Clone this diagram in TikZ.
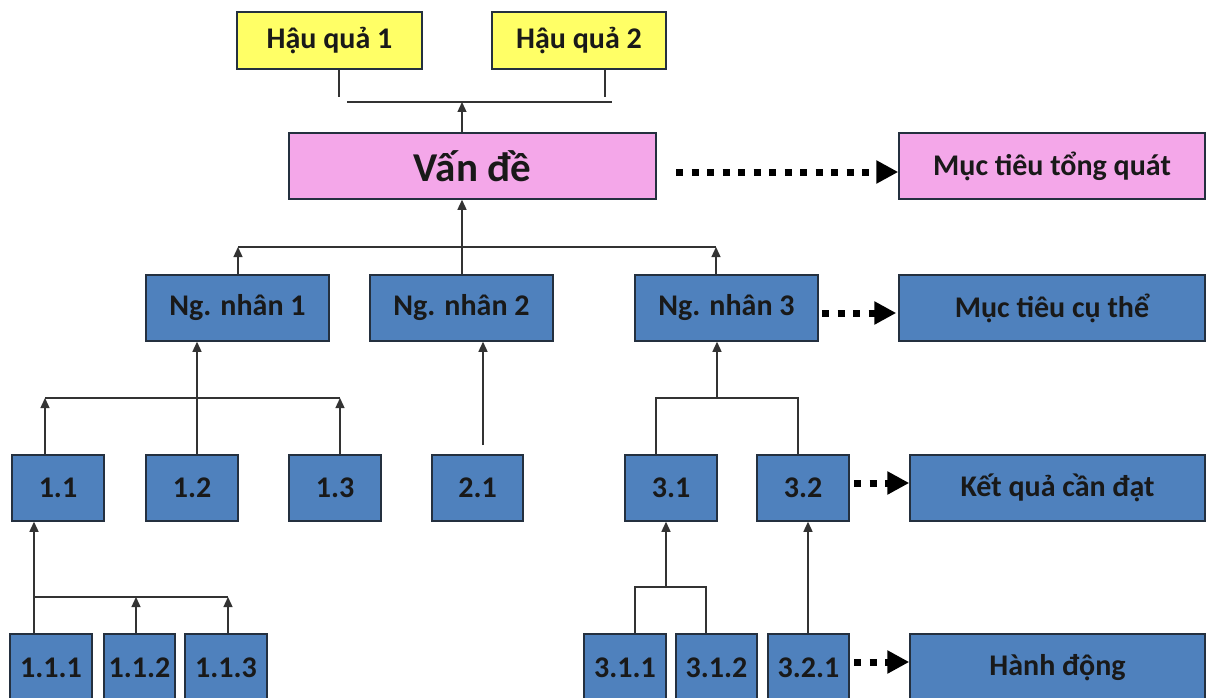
\documentclass[tikz,border=0pt]{standalone}
\usepackage{fontspec}
\setmainfont{Carlito}
\usetikzlibrary{arrows.meta}
\definecolor{bxblue}{HTML}{4F81BD}
\definecolor{bxpink}{HTML}{F4A7E9}
\definecolor{bxyellow}{HTML}{FFFF66}
\definecolor{bxborder}{HTML}{24303F}
\definecolor{lncol}{HTML}{333333}
\begin{document}
\begin{tikzpicture}[x=1pt,y=-1pt,
  box/.style={draw=bxborder,line width=1.5pt,rectangle,inner sep=0pt,
    font=\fontsize{30}{34}\selectfont\bfseries,text=black!90},
  blue/.style={box,fill=bxblue},
  ln/.style={draw=lncol,line width=1.3pt},
  arr/.style={ln,-{Triangle[length=10pt,width=9pt]}},
  dotarr/.style={draw=black,line width=7pt,dash pattern=on 7pt off 8.5pt,
    -{Triangle[length=22pt,width=22pt]}}]
\useasboundingbox (0,0) rectangle (1218,698);
\fill[white] (0,0) rectangle (1218,698);
% level 0
\node[box,fill=bxyellow,minimum width=185pt,minimum height=57pt] (hq1) at (329.5,40.5) {Hậu quả 1};
\node[box,fill=bxyellow,minimum width=174pt,minimum height=57pt] (hq2) at (579,40.5) {Hậu quả 2};
% level 1
\node[box,fill=bxpink,minimum width=367pt,minimum height=66pt,font=\fontsize{41}{46}\selectfont\bfseries] (vd) at (472.5,166) {Vấn đề};
\node[box,fill=bxpink,minimum width=306pt,minimum height=66pt] (mt) at (1052,166) {Mục tiêu tổng quát};
% level 2
\node[blue,minimum width=183pt,minimum height=66pt] (nn1) at (237.5,308) {Ng. nhân 1};
\node[blue,minimum width=183pt,minimum height=66pt] (nn2) at (461.5,308) {Ng. nhân 2};
\node[blue,minimum width=183pt,minimum height=66pt] (nn3) at (726.5,308) {Ng. nhân 3};
\node[blue,minimum width=306pt,minimum height=66pt] (mtc) at (1052,308) {Mục tiêu cụ thể};
% level 3
\node[blue,minimum width=92pt,minimum height=66pt] (b11) at (58,488) {1.1};
\node[blue,minimum width=92pt,minimum height=66pt] (b12) at (192,488) {1.2};
\node[blue,minimum width=92pt,minimum height=66pt] (b13) at (335,488) {1.3};
\node[blue,minimum width=91pt,minimum height=66pt] (b21) at (477.5,488) {2.1};
\node[blue,minimum width=92pt,minimum height=66pt] (b31) at (671,488) {3.1};
\node[blue,minimum width=92pt,minimum height=66pt] (b32) at (803,488) {3.2};
\node[blue,minimum width=295pt,minimum height=66pt] (kq) at (1057.5,488) {Kết quả cần đạt};
% level 4
\node[blue,minimum width=82pt,minimum height=67pt] (b111) at (51,667.5) {1.1.1};
\node[blue,minimum width=71pt,minimum height=67pt] (b112) at (139.5,667.5) {1.1.2};
\node[blue,minimum width=82pt,minimum height=67pt] (b113) at (226,667.5) {1.1.3};
\node[blue,minimum width=82pt,minimum height=67pt] (b311) at (625,667.5) {3.1.1};
\node[blue,minimum width=81pt,minimum height=67pt] (b312) at (716.5,667.5) {3.1.2};
\node[blue,minimum width=81pt,minimum height=67pt] (b321) at (808.5,667.5) {3.2.1};
\node[blue,minimum width=295pt,minimum height=67pt] (hd) at (1057.5,667.5) {Hành động};
% top connectors
\coordinate (h1e) at (339,97);
\coordinate (h2e) at (605,97);
\draw[ln] (h1e |- hq1.south) -- (h1e);
\draw[ln] (h2e |- hq2.south) -- (h2e);
\coordinate (tl) at (347,102);
\coordinate (tr) at (612,102);
\coordinate (tm) at (462,102);
\draw[ln] (tl) -- (tr);
\draw[arr] (tm |- vd.north) -- (tm);
% level 2 connectors
\coordinate (m1) at (238,247);
\coordinate (m3) at (716,247);
\coordinate (c2) at (462,247);
\draw[ln] (m1) -- (m3);
\draw[arr] (m1 |- nn1.north) -- (m1);
\draw[arr] (m3 |- nn3.north) -- (m3);
\draw[arr] (c2 |- nn2.north) -- (c2 |- vd.south);
% level 3 connectors, branch 1
\coordinate (a1) at (45,398);
\coordinate (a2) at (197,398);
\coordinate (a3) at (340,398);
\draw[ln] (a1) -- (a3);
\draw[arr] (a1 |- b11.north) -- (a1);
\draw[arr] (a3 |- b13.north) -- (a3);
\draw[arr] (a2 |- b12.north) -- (a2 |- nn1.south);
% branch 2
\coordinate (d1) at (483,445);
\draw[arr] (d1) -- (d1 |- nn2.south);
% branch 3
\coordinate (e1) at (656,398);
\coordinate (e2) at (798,398);
\coordinate (em) at (717,398);
\draw[ln] (e1 |- b31.north) -- (e1) -- (e2) -- (e2 |- b32.north);
\draw[arr] (em) -- (em |- nn3.south);
% level 4 connectors
\coordinate (f1) at (34,597);
\coordinate (f2) at (136,597);
\coordinate (f3) at (228,597);
\draw[ln] (f1) -- (f3);
\draw[arr] (f1 |- b111.north) -- (f1 |- b11.south);
\draw[arr] (f2 |- b112.north) -- (f2);
\draw[arr] (f3 |- b113.north) -- (f3);
\coordinate (g1) at (635,587);
\coordinate (g2) at (706,587);
\coordinate (gm) at (666,587);
\draw[ln] (g1 |- b311.north) -- (g1) -- (g2) -- (g2 |- b312.north);
\draw[arr] (gm) -- (gm |- b31.south);
\coordinate (k) at (808,600);
\draw[arr] (k |- b321.north) -- (k |- b32.south);
% dotted arrows
\coordinate (p1) at (676,172);
\draw[dotarr] (p1) -- (p1 -| mt.west);
\coordinate (p2) at (822,313);
\draw[dotarr] (p2) -- ([xshift=-2pt]p2 -| mtc.west);
\coordinate (p3) at (854,483);
\draw[dotarr] (p3) -- (p3 -| kq.west);
\coordinate (p4) at (854,662);
\draw[dotarr] (p4) -- (p4 -| hd.west);
\end{tikzpicture}
\end{document}
